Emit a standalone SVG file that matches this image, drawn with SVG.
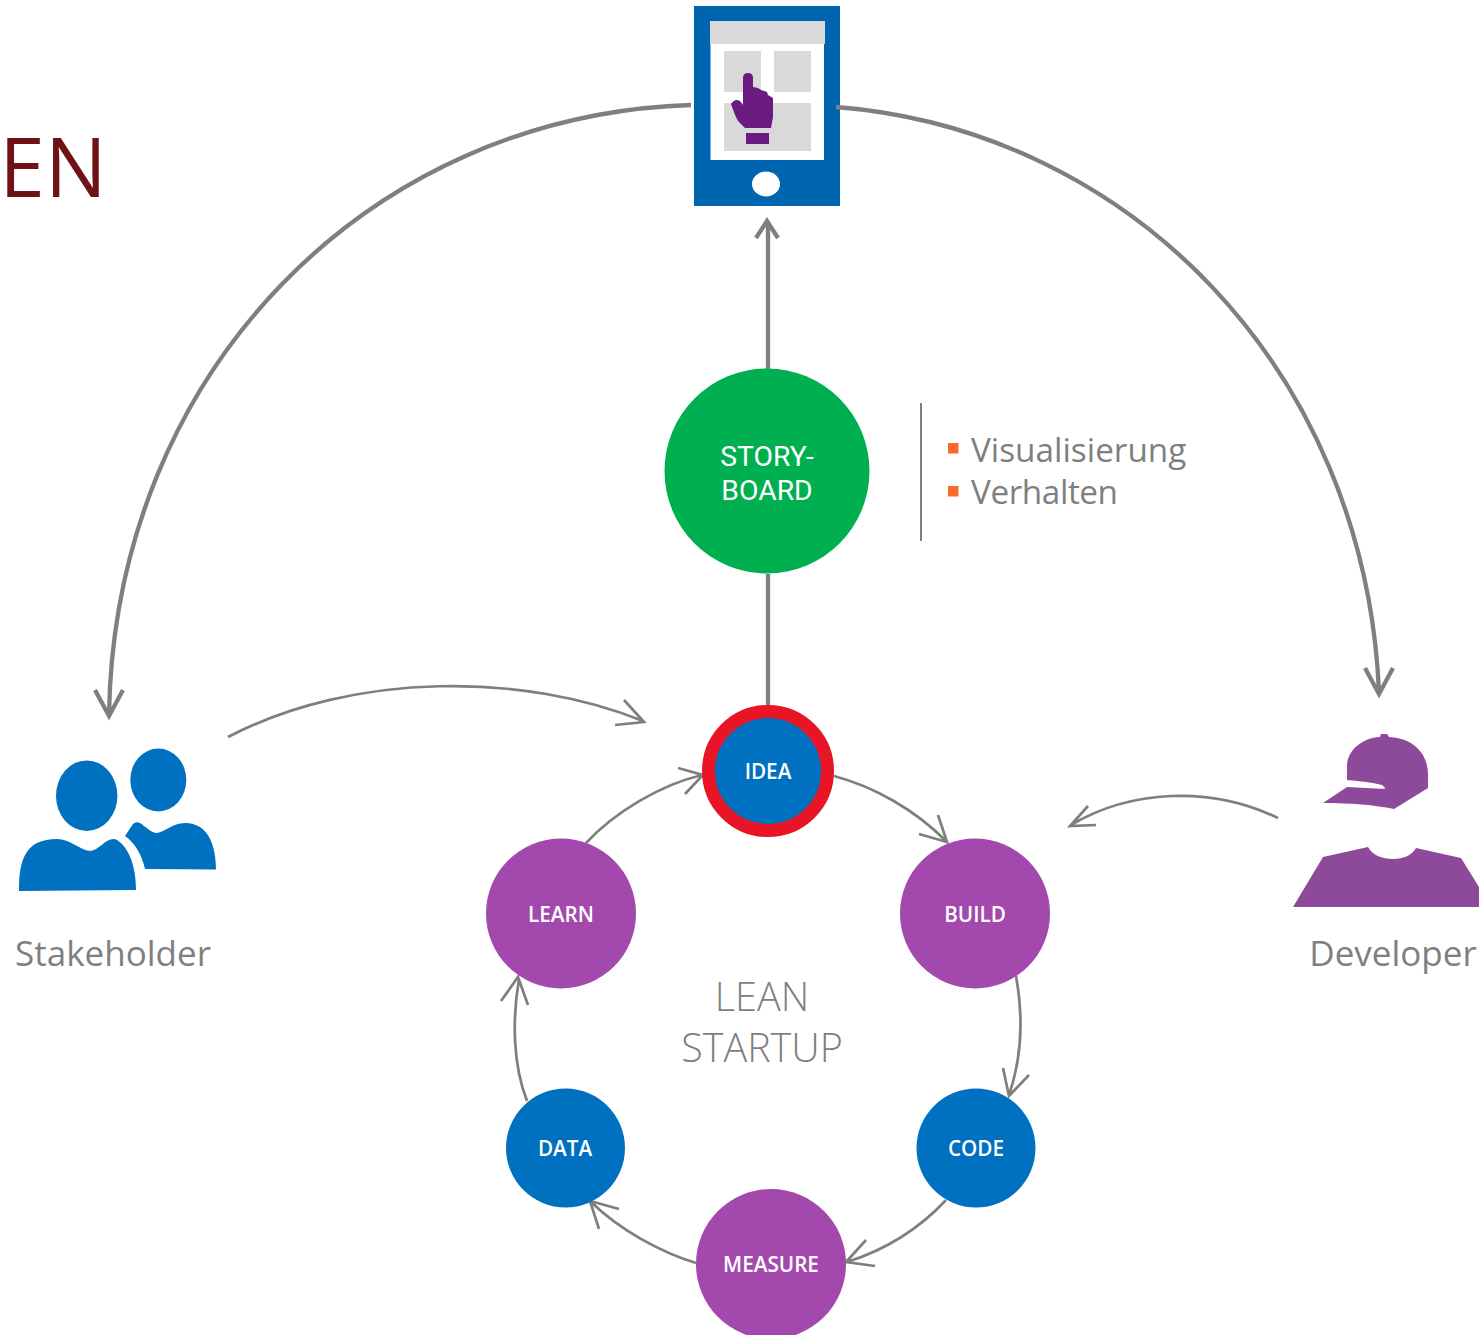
<svg xmlns="http://www.w3.org/2000/svg" width="1479" height="1335" viewBox="0 0 1479 1335">
<style>
text{font-family:"Open Sans","Noto Sans","Liberation Sans",sans-serif;text-anchor:middle}
.thick{fill:none;stroke:#7f7f7f;stroke-width:4.300}
.thin{fill:none;stroke:#7f7f7f;stroke-width:2.700}
.node{fill:#fff;font-size:20.700px;font-weight:600}
.lab{fill:#7f7f7f;font-size:35px}
.note{fill:#7f7f7f;font-size:33.300px;text-anchor:start}
.pur{fill:#a349ae}
.blu{fill:#0070c0}
.lean{fill:#7f7f7f;font-size:39.500px;font-weight:300}
.story{fill:#fff;font-size:28.300px;font-family:Roboto,"Open Sans",sans-serif}
</style>
<rect width="1479" height="1335" fill="#fff"/>
<text x="53" y="197" style="font-size:82px;fill:#6f1216">EN</text>
<g id="phone">
<rect x="694" y="6" width="146" height="200" fill="#0065b0"/>
<rect x="710.500" y="21" width="113.500" height="139" fill="#fff"/>
<rect x="710" y="21" width="115" height="23" fill="#d9d9d9"/>
<rect x="724" y="51" width="37" height="41" fill="#d9d9d9"/>
<rect x="774" y="51" width="37" height="41" fill="#d9d9d9"/>
<rect x="724" y="103" width="87" height="48" fill="#d9d9d9"/>
<ellipse cx="766" cy="184" rx="14" ry="12.500" fill="#fff"/>
<path d="M743 78Q743 73 748 73Q753 73 753 78V87L758 88L761 90L767 92L768 95L773 98V117L771 128H745L738 121L735 115L731 104Q735 98 740 101L743 105Z" fill="#6a1a80"/>
<rect x="746" y="133" width="23" height="11" fill="#6a1a80"/>
</g>
<g id="connectors">
<path class="thick" d="M768 369V222M756 238L767 221L778 238"/>
<path class="thick" d="M768 574V706"/>
<path class="thick" d="M691 105C370 115 115 370 109 714M95 690L109 716L123 690"/>
<path class="thick" d="M836 107C1130 130 1365 370 1379 692M1365 668L1379 694L1393 668"/>
<path class="thin" d="M228 737C355 671 525 673 643 721M624 700L644 722L615 725"/>
<path class="thin" d="M1278 818C1210 785 1130 790 1071 825M1088 806L1070 826L1096 825"/>
<path class="thin" d="M834 776C875 787 915 810 946 841M938 815L947 842L919 834"/>
<path class="thin" d="M1016 976C1024 1020 1021 1060 1009 1095M1003 1068L1009 1096L1029 1075"/>
<path class="thin" d="M946 1200C920 1228 885 1250 847 1262M875 1266L846 1262L866 1240"/>
<path class="thin" d="M696 1263C660 1252 620 1230 591 1202M619 1209L590 1201L599 1229"/>
<path class="thin" d="M527 1101C513 1065 512 1020 519 979M501 1001L518 977L528 1005"/>
<path class="thin" d="M586 843C615 812 660 785 702 775M678 768L703 775L685 794"/>
<path d="M921 403V541" fill="none" stroke="#7f7f7f" stroke-width="2"/>
</g>
<g id="stakeholder">
<ellipse cx="86.700" cy="795.700" rx="30.700" ry="35.300" class="blu"/>
<ellipse cx="158.300" cy="780" rx="28" ry="31.500" class="blu"/>
<path class="blu" d="M19 891C19 860 25 839 57 839C70 839 80 850 90 851C100 850 105 838 115 839C128 845 136 865 136 890Z"/>
<path class="blu" d="M125 836L133 824Q136 821 140 823C147 828 152 833 157 833C165 832 172 823 185 823C208 823 216 845 216 869.500L145 869C142 855 135 843 125 836Z"/>
<text class="lab" x="113" y="966">Stakeholder</text>
</g>
<g id="developer">
<path fill="#8e4a9a" d="M1347 780V765C1348 750 1362 738 1380 737L1381 734H1387L1389 737C1412 738 1428 752 1428 775V788L1394 809C1375 805 1350 803 1323 803L1347 787L1385 789Q1385 787 1382 785C1370 782 1358 781 1347 780Z"/>
<path fill="#8e4a9a" d="M1293 907L1323 857L1368 847C1372 855 1382 859 1393 859C1404 859 1412 855 1416 848L1461 858L1479 887V907Z"/>
<text class="lab" x="1393" y="966">Developer</text>
</g>
<g id="storyboard">
<circle cx="767" cy="471" r="102.500" fill="#00b050"/>
<text class="story" x="767" y="466">STORY-</text>
<text class="story" x="767" y="500">BOARD</text>
</g>
<g id="notes">
<rect x="948" y="443" width="10.500" height="10.500" fill="#f96b2b"/>
<rect x="948" y="486" width="10.500" height="10.500" fill="#f96b2b"/>
<text class="note" x="971" y="461.500">Visualisierung</text>
<text class="note" x="971" y="504" textLength="147">Verhalten</text>
</g>
<g id="idea"><circle cx="768" cy="771" r="59.500" fill="#0070c0" stroke="#ea1427" stroke-width="13"/><text class="node" x="768" y="779">IDEA</text></g>
<g id="build"><circle cx="975" cy="913.500" r="75" class="pur"/><text class="node" x="975" y="922">BUILD</text></g>
<g id="code"><circle cx="976" cy="1148" r="59.500" class="blu"/><text class="node" x="976" y="1156">CODE</text></g>
<g id="measure"><circle cx="771" cy="1264" r="75" class="pur"/><text class="node" x="771" y="1272">MEASURE</text></g>
<g id="data"><circle cx="565.500" cy="1148" r="59.500" class="blu"/><text class="node" x="565" y="1156">DATA</text></g>
<g id="learn"><circle cx="561" cy="913.500" r="75" class="pur"/><text class="node" x="561" y="922">LEARN</text></g>
<g id="lean"><text class="lean" x="762" y="1011">LEAN</text><text class="lean" x="762" y="1062">STARTUP</text></g>
</svg>
